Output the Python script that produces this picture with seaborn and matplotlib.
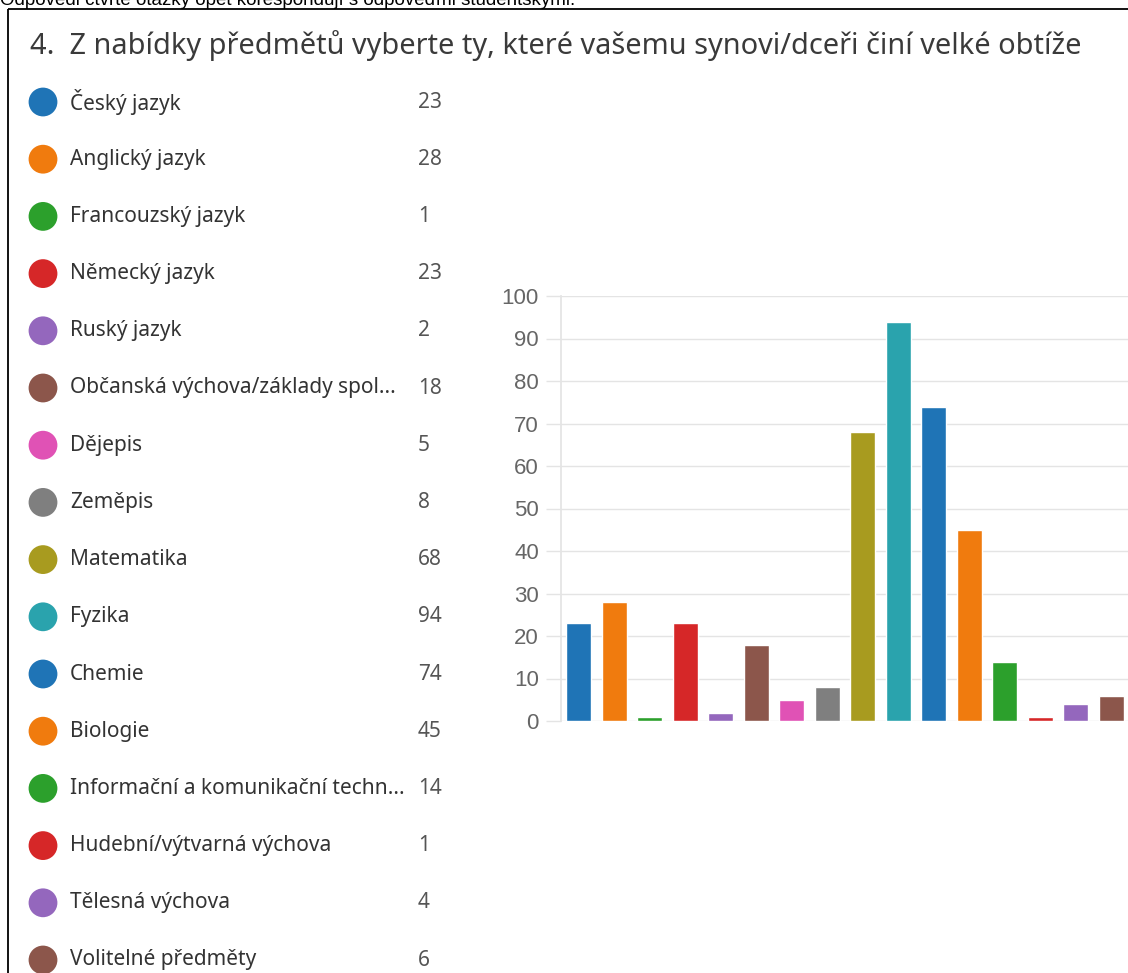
import matplotlib
matplotlib.use("Agg")
import matplotlib.pyplot as plt
import seaborn as sns
import pandas as pd

subjects = [
    "Český jazyk", "Anglický jazyk", "Francouzský jazyk", "Německý jazyk",
    "Ruský jazyk", "Občanská výchova/základy spol...", "Dějepis", "Zeměpis",
    "Matematika", "Fyzika", "Chemie", "Biologie",
    "Informační a komunikační techn...", "Hudební/výtvarná výchova",
    "Tělesná výchova", "Volitelné předměty",
]
counts = [23, 28, 1, 23, 2, 18, 5, 8, 68, 94, 74, 45, 14, 1, 4, 6]
y_ticks = [0, 10, 20, 30, 40, 50, 60, 70, 80, 90, 100]

title = "4.  Z nabídky předmětů vyberte ty, které vašemu synovi/dceři činí velké obtíže"
intro = "Odpovědi čtvrté otázky opět korespondují s odpověďmi studentskými."

base_colors = ["#1f74b6", "#f07b0e", "#2ca02c", "#d62728", "#9467bd",
               "#8c564b", "#e052b5", "#7f7f7f", "#a89b1f", "#2aa3ad"]
colors = [base_colors[i % 10] for i in range(len(subjects))]

df = pd.DataFrame({"subject": subjects, "count": counts})

sns.set_theme(style="white")
plt.rcParams["font.family"] = ["Noto Sans", "DejaVu Sans"]

W, H = 1128, 973
fig = plt.figure(figsize=(W / 100, H / 100), dpi=100)

# overlay in pixel coordinates for the frame, title and legend
ov = fig.add_axes([0, 0, 1, 1])
ov.set_xlim(0, W)
ov.set_ylim(H, 0)
ov.axis("off")

ov.text(0, 5, intro, fontsize=13.5, color="black", va="baseline", ha="left",
        family=["Liberation Sans", "DejaVu Sans"])
ov.plot([8, W], [9, 9], color="black", lw=1.3, solid_capstyle="butt")
ov.plot([8, 8], [9, H], color="black", lw=1.3, solid_capstyle="butt")

ov.text(30, 46, title, fontsize=20.8, color="#3a3a3a", va="center", ha="left")

row_y = [102 + i * 57.2 for i in range(len(subjects))]
ov.scatter([43] * len(subjects), row_y, s=430, c=colors, linewidths=0, zorder=3)
for y, name, n in zip(row_y, subjects, counts):
    ov.text(70, y, name, fontsize=15, color="#333333", va="center", ha="left")
    ov.text(418, y, str(n), fontsize=15, color="#555555", va="center", ha="left")

# bar chart
ax = fig.add_axes([561 / W, (H - 721) / H, (1129 - 561) / W, 425 / H])
sns.barplot(data=df, x="subject", y="count", hue="subject", palette=colors,
            width=0.7, legend=False, ax=ax, saturation=1)
ax.set_xlim(-0.5, len(subjects) - 0.5)
ax.set_ylim(0, 100)
ax.set_yticks(y_ticks)
ax.set_xticks([])
ax.set_xlabel("")
ax.set_ylabel("")
ax.yaxis.grid(True, color="#e4e4e4", lw=1)
ax.set_axisbelow(True)
for s in ["top", "right", "bottom"]:
    ax.spines[s].set_visible(False)
ax.spines["left"].set_color("#e4e4e4")
ax.tick_params(axis="y", length=11, width=1, color="#e4e4e4", labelsize=16,
               labelcolor="#666666", pad=5, left=True)
for lab in ax.get_yticklabels():
    lab.set_family(["Liberation Sans", "DejaVu Sans"])
ax.patch.set_alpha(0)

fig.savefig("out.png", dpi=100)
